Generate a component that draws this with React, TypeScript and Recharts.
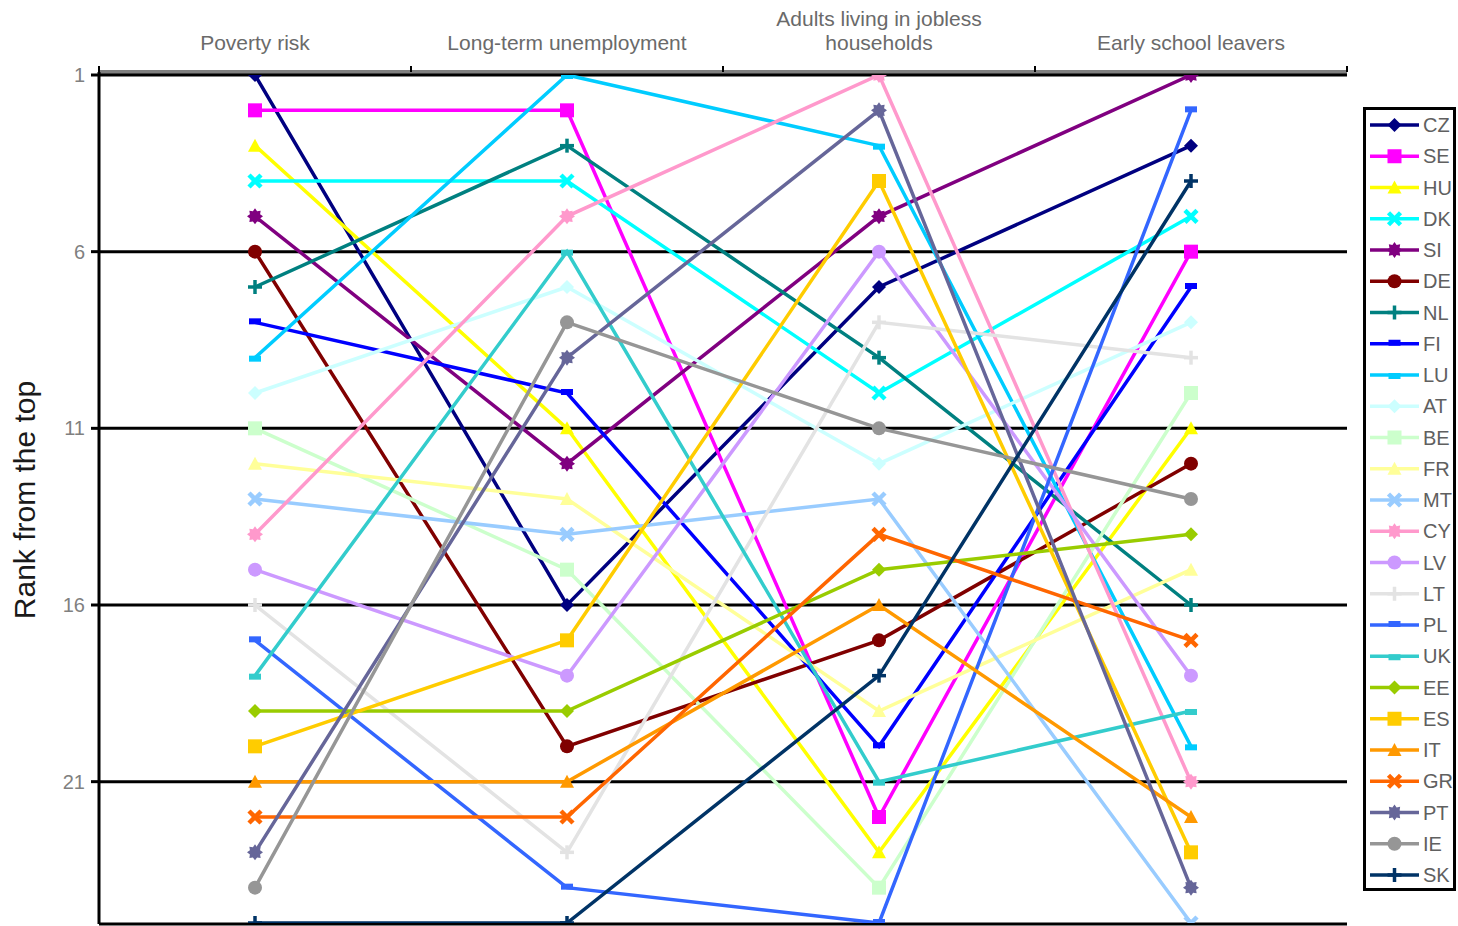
import React from "react";
import { LineChart, Line, XAxis, YAxis, CartesianGrid, Legend } from "recharts";

const categories = [
  "Poverty risk",
  "Long-term unemployment",
  "Adults living in jobless households",
  "Early school leavers",
];

const countries = [
  "CZ", "SE", "HU", "DK", "SI", "DE", "NL", "FI", "LU", "AT", "BE", "FR", "MT",
  "CY", "LV", "LT", "PL", "UK", "EE", "ES", "IT", "GR", "PT", "IE", "SK",
];

const colors = [
  "#000080", "#FF00FF", "#FFFF00", "#00FFFF", "#800080", "#800000", "#008080",
  "#0000FF", "#00CCFF", "#CCFFFF", "#CCFFCC", "#FFFF99", "#99CCFF", "#FF99CC",
  "#CC99FF", "#E3E3E3", "#3366FF", "#33CCCC", "#99CC00", "#FFCC00", "#FF9900",
  "#FF6600", "#666699", "#969696", "#003366",
];

// ranks, in the order of `countries`
const povertyRank = [1, 2, 3, 4, 5, 6, 7, 8, 9, 10, 11, 12, 13, 14, 15, 16, 17, 18, 19, 20, 21, 22, 23, 24, 25];
const unemploymentRank = [16, 2, 11, 4, 12, 20, 3, 10, 1, 7, 15, 13, 14, 5, 18, 23, 24, 6, 19, 17, 21, 22, 9, 8, 25];
const joblessRank = [7, 22, 23, 10, 5, 17, 9, 20, 3, 12, 24, 19, 13, 1, 6, 8, 25, 21, 15, 4, 16, 14, 2, 11, 18];
const schoolRank = [3, 6, 11, 5, 1, 12, 16, 7, 20, 8, 10, 15, 25, 21, 18, 9, 2, 19, 14, 23, 22, 17, 24, 13, 4];

const yTicks = [1, 6, 11, 16, 21];

const markerCycle = ["diamond", "square", "triangle", "x", "star", "circle", "plus", "dash", "bar"];

const rankSets = [povertyRank, unemploymentRank, joblessRank, schoolRank];
const data = categories.map((c, i) => {
  const row: Record<string, any> = { category: c };
  countries.forEach((k, j) => {
    row[k] = rankSets[i][j];
  });
  return row;
});

const FONT = "'Liberation Sans', Arial, sans-serif";
const HALF_BAND = 156;

function Marker({ shape, cx, cy, color }: { shape: string; cx: number; cy: number; color: string }) {
  const s = 7;
  switch (shape) {
    case "diamond":
      return <polygon points={`${cx},${cy - s} ${cx + s},${cy} ${cx},${cy + s} ${cx - s},${cy}`} fill={color} />;
    case "square":
      return <rect x={cx - s} y={cy - s} width={2 * s} height={2 * s} fill={color} />;
    case "triangle":
      return <polygon points={`${cx},${cy - s} ${cx + s},${cy + s - 1} ${cx - s},${cy + s - 1}`} fill={color} />;
    case "x":
      return (
        <g stroke={color} strokeWidth={4.5}>
          <line x1={cx - s + 1} y1={cy - s + 1} x2={cx + s - 1} y2={cy + s - 1} />
          <line x1={cx - s + 1} y1={cy + s - 1} x2={cx + s - 1} y2={cy - s + 1} />
        </g>
      );
    case "star": {
      const pts: string[] = [];
      for (let i = 0; i < 16; i++) {
        const r = i % 2 === 0 ? 8 : 5.5;
        const a = (Math.PI * i) / 8 - Math.PI / 2;
        pts.push(`${cx + r * Math.cos(a)},${cy + r * Math.sin(a)}`);
      }
      return <polygon points={pts.join(" ")} fill={color} />;
    }
    case "circle":
      return <circle cx={cx} cy={cy} r={s} fill={color} />;
    case "plus":
      return (
        <g stroke={color} strokeWidth={3.5}>
          <line x1={cx - s} y1={cy} x2={cx + s} y2={cy} />
          <line x1={cx} y1={cy - s} x2={cx} y2={cy + s} />
        </g>
      );
    case "dash":
      return <rect x={cx - 6} y={cy - 4} width={12} height={6} fill={color} />;
    case "bar":
      return <rect x={cx - 6} y={cy - 2} width={12} height={6} fill={color} />;
    default:
      return null;
  }
}

function wrapLabel(text: string, maxChars: number): string[] {
  const words = text.split(" ");
  const lines: string[] = [];
  let cur = "";
  words.forEach((w) => {
    const next = cur ? cur + " " + w : w;
    if (next.length > maxChars && cur) {
      lines.push(cur);
      cur = w;
    } else {
      cur = next;
    }
  });
  if (cur) lines.push(cur);
  return lines;
}

function CategoryTick(props: any) {
  const { x, payload, index } = props;
  const lines = wrapLabel(String(payload.value), 25);
  return (
    <g>
      {lines.map((l, i) => (
        <text
          key={i}
          x={x}
          y={50 - (lines.length - 1 - i) * 24}
          textAnchor="middle"
          fill="#6a6a6a"
          fontSize={21}
          fontFamily={FONT}
        >
          {l}
        </text>
      ))}
      <line x1={x - HALF_BAND} x2={x - HALF_BAND} y1={66} y2={72} stroke="#000" strokeWidth={2} />
      {index === categories.length - 1 && (
        <line x1={x + HALF_BAND} x2={x + HALF_BAND} y1={66} y2={72} stroke="#000" strokeWidth={2} />
      )}
    </g>
  );
}

function LegendBox() {
  return (
    <svg width={96} height={790} style={{ display: "block" }}>
      <rect x={2.5} y={2.5} width={90} height={781} fill="#fff" stroke="#000" strokeWidth={3} />
      {countries.map((c, i) => {
        const cy = 19 + i * 31.25;
        return (
          <g key={c}>
            <line x1={8} x2={57} y1={cy} y2={cy} stroke={colors[i]} strokeWidth={3.5} />
            <Marker shape={markerCycle[i % markerCycle.length]} cx={32.5} cy={cy} color={colors[i]} />
            <text x={61} y={cy + 7} fill="#606060" fontSize={20} fontFamily={FONT}>
              {c}
            </text>
          </g>
        );
      })}
    </svg>
  );
}

export default function App() {
  return (
    <div style={{ position: "absolute", left: 0, top: 0, width: 1458, height: 926, background: "#fff" }}>
      <LineChart width={1458} height={926} data={data} margin={{ top: 0, right: 111, bottom: 2, left: 0 }}>
        <CartesianGrid horizontal vertical={false} stroke="#000" strokeWidth={3} />
        <XAxis
          xAxisId="top"
          dataKey="category"
          orientation="top"
          height={72}
          padding={{ left: HALF_BAND, right: HALF_BAND }}
          axisLine={{ stroke: "#808080", strokeWidth: 2 }}
          tickLine={false}
          tick={<CategoryTick />}
          interval={0}
        />
        <XAxis
          xAxisId="bottom"
          dataKey="category"
          orientation="bottom"
          height={0}
          padding={{ left: HALF_BAND, right: HALF_BAND }}
          axisLine={{ stroke: "#808080", strokeWidth: 2 }}
          tickLine={false}
          tick={false}
        />
        <YAxis
          type="number"
          domain={[1, 25]}
          reversed
          ticks={yTicks}
          interval={0}
          width={99}
          padding={{ top: 3, bottom: 1 }}
          allowDataOverflow
          axisLine={{ stroke: "#000", strokeWidth: 3 }}
          tickLine={{ stroke: "#000", strokeWidth: 3 }}
          tickSize={8}
          tickMargin={6}
          tick={{ fill: "#808080", fontSize: 20, fontFamily: FONT }}
          label={{
            value: "Rank from the top",
            content: () => (
              <text
                x={35}
                y={500}
                transform="rotate(-90 35 500)"
                textAnchor="middle"
                fill="#1a1a1a"
                fontSize={30}
                fontFamily={FONT}
              >
                Rank from the top
              </text>
            ),
          }}
        />
        <Legend
          layout="horizontal"
          verticalAlign="middle"
          align="center"
          wrapperStyle={{ position: "absolute", left: 1362, top: 106, width: 96, height: 790 }}
          content={() => <LegendBox />}
        />
        {countries.map((c, i) => (
          <Line
            key={c}
            xAxisId="top"
            type="linear"
            dataKey={c}
            stroke={colors[i]}
            strokeWidth={3.5}
            isAnimationActive={false}
            activeDot={false}
            dot={(p: any) => (
              <g key={`${c}-${p.index}`}>
                <Marker shape={markerCycle[i % markerCycle.length]} cx={p.cx} cy={p.cy} color={colors[i]} />
              </g>
            )}
          />
        ))}
      </LineChart>
    </div>
  );
}
